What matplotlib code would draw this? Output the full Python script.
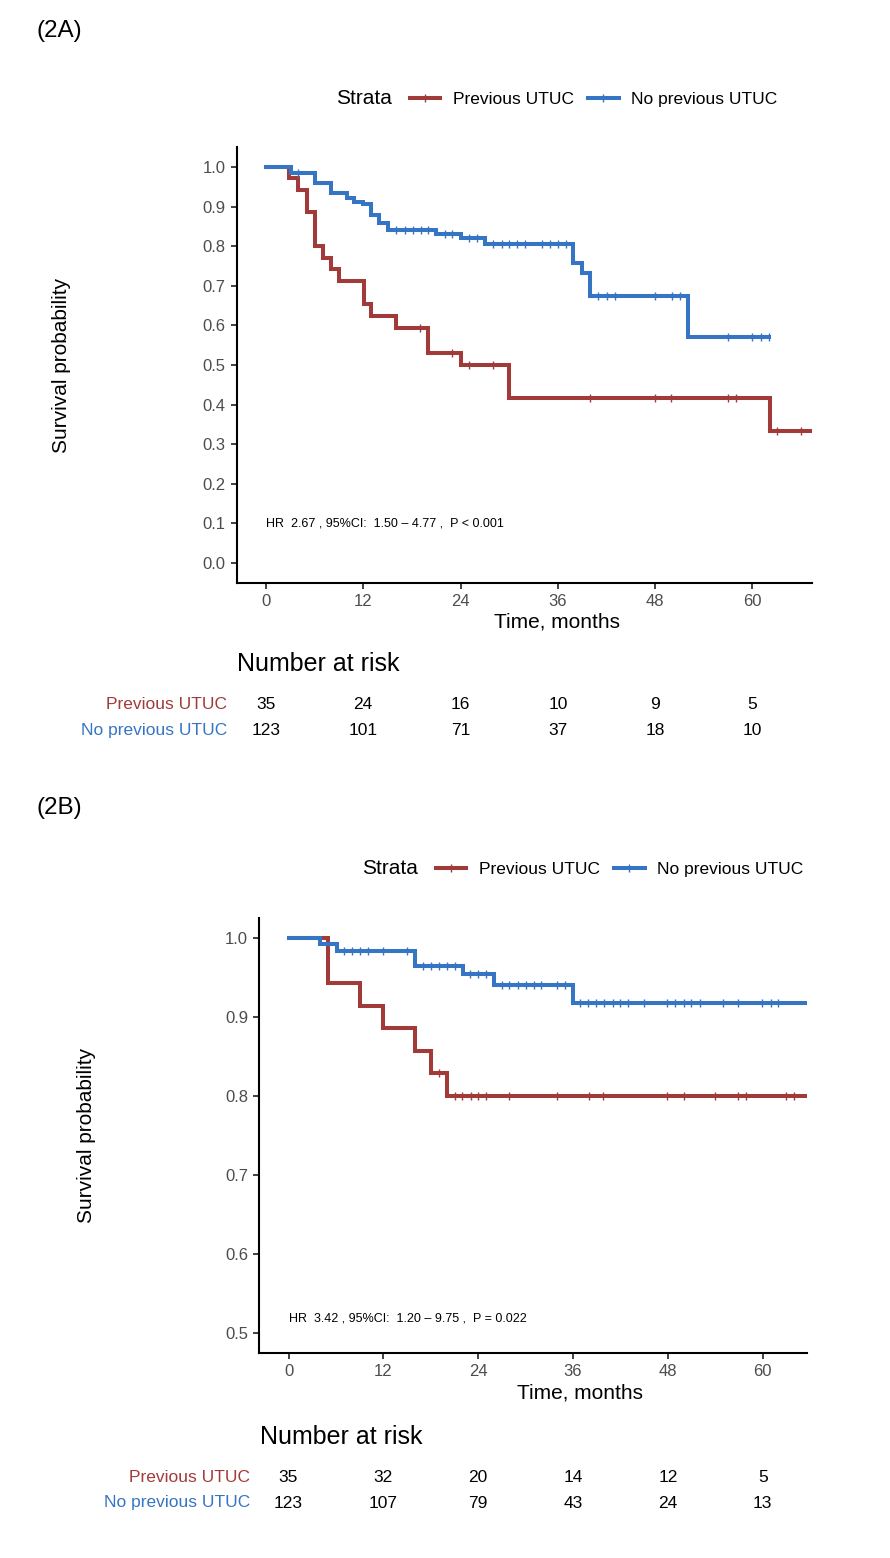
import numpy as np
import matplotlib
matplotlib.use("Agg")
import matplotlib.pyplot as plt
import matplotlib.transforms as mtransforms
from matplotlib.lines import Line2D

plt.rcParams["font.family"] = ["Liberation Sans", "DejaVu Sans"]

RED = "#A13B3A"
BLUE = "#3575C3"
groups = ["Previous UTUC", "No previous UTUC"]

# ---- panel 2A data (months, survival) ----
a_prev_t = [0, 2.9, 4.0, 5.1, 6.0, 7.0, 8.0, 9.0, 12.1, 13.0, 16.0, 20.0, 24.0, 30.0, 62.1]
a_prev_s = [1.0, 0.971, 0.943, 0.886, 0.800, 0.771, 0.742, 0.712, 0.653, 0.624, 0.594, 0.531, 0.500, 0.416, 0.333]
a_prev_end = 67.3
a_prev_cens = [19.0, 22.9, 25.0, 28.0, 40.0, 48.0, 50.0, 57.0, 58.0, 63.0, 66.0]

a_no_t = [0, 3.1, 6.0, 8.0, 10.0, 10.9, 12.0, 13.0, 14.0, 15.0, 21.0, 24.0, 27.0, 37.9, 39.0, 40.0, 52.0]
a_no_s = [1.0, 0.984, 0.959, 0.934, 0.922, 0.912, 0.906, 0.879, 0.859, 0.841, 0.831, 0.820, 0.805, 0.757, 0.733, 0.675, 0.571]
a_no_end = 62.0
a_no_cens = [4.0, 16.1, 17.1, 18.1, 19.1, 20.0, 22.1, 23.0, 25.0, 26.0,
             28.0, 29.1, 30.0, 31.0, 32.0, 34.0, 35.0, 36.0, 37.0,
             41.0, 42.0, 43.0, 48.0, 50.1, 51.0, 57.0, 60.0, 61.0, 62.0]

a_risk_times = [0, 12, 24, 36, 48, 60]
a_risk_prev = [35, 24, 16, 10, 9, 5]
a_risk_no = [123, 101, 71, 37, 18, 10]
a_hr_text = "HR  2.67 , 95%CI:  1.50 \u2013 4.77 ,  P < 0.001"

# ---- panel 2B data ----
b_prev_t = [0, 5.0, 9.0, 12.0, 16.0, 18.0, 20.0]
b_prev_s = [1.0, 0.943, 0.914, 0.886, 0.857, 0.829, 0.800]
b_prev_end = 65.6
b_prev_cens = [19.0, 21.0, 22.0, 23.1, 24.0, 25.0, 27.9, 34.0, 38.0, 39.8,
               47.9, 50.0, 53.9, 56.9, 57.9, 62.9, 63.9]

b_no_t = [0, 4.0, 6.1, 16.0, 22.1, 26.0, 36.0]
b_no_s = [1.0, 0.992, 0.984, 0.965, 0.954, 0.940, 0.918]
b_no_end = 65.6
b_no_cens = [7.0, 8.0, 9.0, 10.0, 12.0, 15.0, 17.0, 18.0, 19.0, 20.0, 21.0,
             23.0, 24.0, 25.0, 27.0, 27.9, 29.0, 30.0, 31.0, 31.9, 34.0, 35.0,
             36.9, 37.9, 38.9, 39.9, 41.0, 42.0, 43.0, 45.0, 47.9, 48.9, 50.0,
             50.9, 52.0, 55.0, 56.9, 59.9, 61.0, 61.9]

b_risk_times = [0, 12, 24, 36, 48, 60]
b_risk_prev = [35, 32, 20, 14, 12, 5]
b_risk_no = [123, 107, 79, 43, 24, 13]
b_hr_text = "HR  3.42 , 95%CI:  1.20 \u2013 9.75 ,  P = 0.022"

W, H = 890, 1558
fig = plt.figure(figsize=(W / 100, H / 100), dpi=100)


def fx(px):
    return px / W


def fy(py):
    return 1 - py / H


def km(ax, t, s, end, cens, color):
    t = np.asarray(t, float)
    s = np.asarray(s, float)
    ax.step(np.append(t, end), np.append(s, s[-1]), where="post",
            color=color, lw=2.9, solid_joinstyle="miter", zorder=3)
    idx = np.searchsorted(t, cens, side="right") - 1
    ax.plot(cens, s[idx], ls="none", marker="|", ms=6, mew=1.0,
            color=color, zorder=4)


def panel(box, xlim, ylim, yticks, curves, hr_text, hr_y, tag, tag_y,
          legend_xy, ylab_xy, xlab_xy, nrisk_xy, row_ys, lab_right,
          risk_times, risk_rows):
    l, r, t, b = box
    ax = fig.add_axes([fx(l), fy(b), fx(r - l), (b - t) / H])
    for tt, ss, end, cens, col in curves:
        km(ax, tt, ss, end, cens, col)
    ax.set_xlim(*xlim)
    ax.set_ylim(*ylim)
    ax.set_xticks([0, 12, 24, 36, 48, 60])
    ax.set_yticks(yticks)
    ax.set_yticklabels([f"{v:.1f}" for v in yticks])
    for side in ["top", "right"]:
        ax.spines[side].set_visible(False)
    for side in ["left", "bottom"]:
        ax.spines[side].set_linewidth(1.5)
        ax.spines[side].set_color("black")
    ax.tick_params(length=4, width=1.3, color="#333333", labelcolor="#4D4D4D",
                   labelsize=12, pad=4)
    ax.text(0, hr_y, hr_text, fontsize=9, ha="left", va="center", color="black")

    fig.text(fx(36), fy(tag_y), tag, fontsize=17.5, ha="left", va="center")
    fig.text(fx(ylab_xy[0]), fy(ylab_xy[1]), "Survival probability", fontsize=15,
             rotation=90, ha="center", va="center")
    fig.text(fx(xlab_xy[0]), fy(xlab_xy[1]), "Time, months", fontsize=15,
             ha="center", va="center")

    # legend
    fig.text(fx(legend_xy[0]), fy(legend_xy[1]), "Strata", fontsize=15,
             ha="left", va="center")
    handles = [Line2D([], [], color=c, lw=2.9, marker="|", ms=6, mew=1.0)
               for c in (RED, BLUE)]
    fig.legend(handles, groups, loc="center left",
               bbox_to_anchor=(fx(legend_xy[0] + 74), fy(legend_xy[1])),
               ncol=2, frameon=False, fontsize=12.5, handlelength=1.75,
               handletextpad=0.7, columnspacing=0.85, borderpad=0,
               borderaxespad=0, markerfirst=True)

    # risk table
    fig.text(fx(nrisk_xy[0]), fy(nrisk_xy[1]), "Number at risk", fontsize=18,
             ha="left", va="center")
    trans = mtransforms.blended_transform_factory(ax.transData, fig.transFigure)
    for row_y, counts, col, name in zip(row_ys, risk_rows, (RED, BLUE), groups):
        fig.text(fx(lab_right), fy(row_y), name, color=col, fontsize=12.5,
                 ha="right", va="center")
        for x, n in zip(risk_times, counts):
            ax.text(x, fy(row_y), str(n), transform=trans, fontsize=12.5,
                    ha="center", va="center", color="black")
    return ax


panel(box=(236.7, 811.7, 147.2, 582.8), xlim=(-3.6, 67.3), ylim=(-0.05, 1.05),
      yticks=np.arange(0, 1.01, 0.1),
      curves=[(a_prev_t, a_prev_s, a_prev_end, a_prev_cens, RED),
              (a_no_t, a_no_s, a_no_end, a_no_cens, BLUE)],
      hr_text=a_hr_text, hr_y=0.1, tag="(2A)", tag_y=31,
      legend_xy=(336, 99), ylab_xy=(62, 365), xlab_xy=(557, 622),
      nrisk_xy=(237, 664), row_ys=(704, 731), lab_right=227,
      risk_times=a_risk_times, risk_rows=(a_risk_prev, a_risk_no))

panel(box=(259.3, 807, 918.2, 1353), xlim=(-3.7, 65.6), ylim=(0.475, 1.025),
      yticks=np.arange(0.5, 1.01, 0.1),
      curves=[(b_prev_t, b_prev_s, b_prev_end, b_prev_cens, RED),
              (b_no_t, b_no_s, b_no_end, b_no_cens, BLUE)],
      hr_text=b_hr_text, hr_y=0.519, tag="(2B)", tag_y=808,
      legend_xy=(362, 869), ylab_xy=(86, 1135), xlab_xy=(580, 1393),
      nrisk_xy=(260, 1437), row_ys=(1477, 1503), lab_right=250,
      risk_times=b_risk_times, risk_rows=(b_risk_prev, b_risk_no))

fig.savefig("out.png", dpi=100)
